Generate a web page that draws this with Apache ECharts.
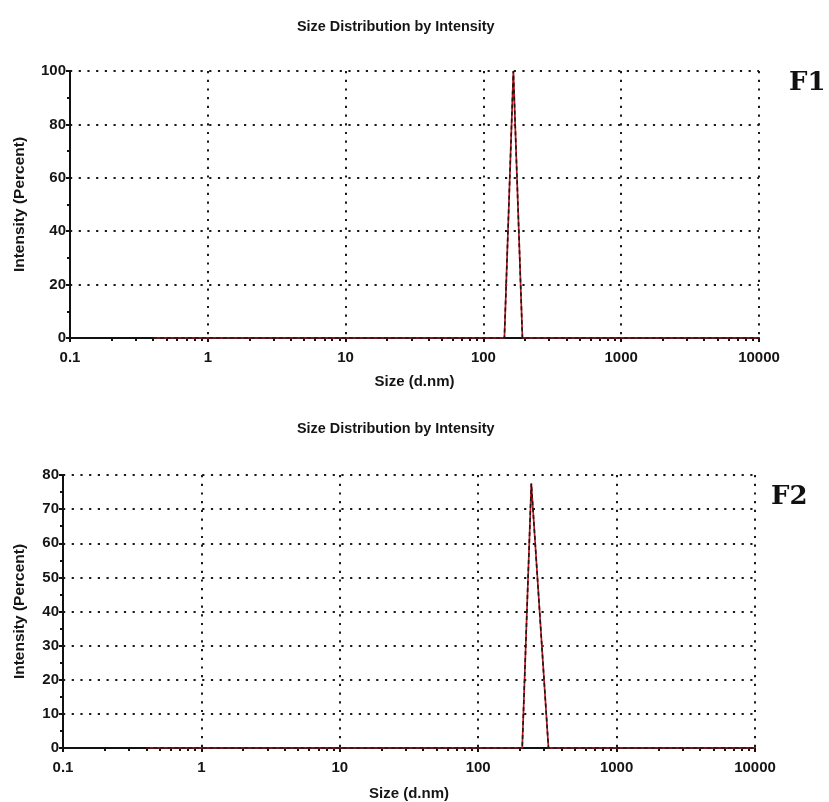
<!DOCTYPE html>
<html>
<head>
<meta charset="utf-8">
<script src="https://cdn.jsdelivr.net/npm/echarts@6/dist/echarts.min.js"></script>
<style>html,body{margin:0;padding:0;background:#fff}#c{width:829px;height:802px}</style>
</head>
<body>
<div id="c"></div>
<script>
// ---- data ----
const chartTitle = 'Size Distribution by Intensity';
const xName = 'Size (d.nm)';
const yName = 'Intensity (Percent)';
const panelLabels = ['F1', 'F2'];
const xTickLabels = [0.1, 1, 10, 100, 1000, 10000];
const xMinorTicks = [0.2,0.3,0.4,0.5,0.6,0.7,0.8,0.9, 2,3,4,5,6,7,8,9, 20,30,40,50,60,70,80,90,
  200,300,400,500,600,700,800,900, 2000,3000,4000,5000,6000,7000,8000,9000];
// F1
const f1Size = [0.4, 142, 165, 192, 10000];
const f1Red = [0, 0, 100, 0, 0];
const f1Black = [0, 0, 100, 0, 0];
// F2
const f2Size = [0.4, 208, 242, 322, 10000];
const f2Red = [0, 0, 77.5, 0, 0];
const f2Black = [0, 0, 77.5, 0, 0];

const FONT = 'Liberation Sans, Arial, sans-serif';
const pair = (xs, ys) => xs.map((x, i) => [x, ys[i]]);
const fmt = v => String(+(+v).toPrecision(6));

const grids = [
  {left: 70, top: 71, width: 689, height: 267},
  {left: 63, top: 475, width: 692, height: 273}
];
const yMax = [100, 80], yInt = [20, 10];
const xNameGap = [36, 38], yNameGap = [42, 35];
const txt = {fontFamily: FONT, fontSize: 15, fontWeight: 'bold', color: '#151515'};
const dotted = {color: '#1a1a1a', type: [2.2, 6.5], width: 2};

const xAxes = [], yAxes = [];
grids.forEach((g, i) => {
  xAxes.push({
    type: 'log', logBase: 10, min: 0.1, max: 10000, gridIndex: i,
    name: xName, nameLocation: 'middle', nameGap: xNameGap[i],
    nameTextStyle: Object.assign({}, txt),
    axisLine: {lineStyle: {color: '#111', width: 2}},
    axisTick: {show: true, length: 4, inside: false, lineStyle: {color: '#111', width: 2}},
    axisLabel: Object.assign({margin: 12, formatter: fmt}, txt),
    splitLine: {show: true, lineStyle: dotted},
    minorTick: {show: false}
  });
  xAxes.push({
    type: 'log', logBase: 10, min: 0.1, max: 10000, gridIndex: i, position: 'bottom',
    axisLine: {show: false},
    axisTick: {show: true, length: 3, inside: false, customValues: xMinorTicks, lineStyle: {color: '#111', width: 2}},
    axisLabel: {show: false},
    splitLine: {show: false}
  });
  yAxes.push({
    type: 'value', min: 0, max: yMax[i], interval: yInt[i], gridIndex: i,
    name: yName, nameLocation: 'middle', nameGap: yNameGap[i], nameRotate: 90,
    nameTextStyle: Object.assign({}, txt, {fontSize: 15.5}),
    axisLine: {show: true, lineStyle: {color: '#111', width: 2}},
    axisTick: {show: true, length: 4, lineStyle: {color: '#111', width: 2}},
    minorTick: {show: true, splitNumber: 2, length: 3, lineStyle: {color: '#111', width: 2}},
    axisLabel: Object.assign({margin: 4}, txt),
    splitLine: {show: true, lineStyle: dotted}
  });
});

const mkRed = (d, i) => ({type: 'line', xAxisIndex: i * 2, yAxisIndex: i, data: d, symbol: 'none',
  lineStyle: {color: '#c0141c', width: 1.7}, z: 3, animation: false});
const mkBlack = (d, i) => ({type: 'line', xAxisIndex: i * 2, yAxisIndex: i, data: d, symbol: 'none',
  lineStyle: {color: '#1a1a1a', width: 1.6, type: [4, 3]}, z: 4, animation: false});

const chart = echarts.init(document.getElementById('c'), null, {renderer: 'canvas'});
chart.setOption({
  animation: false,
  backgroundColor: '#fff',
  title: [
    {text: chartTitle, left: 292, top: 15, textStyle: Object.assign({}, txt, {fontSize: 14.4})},
    {text: chartTitle, left: 292, top: 417, textStyle: Object.assign({}, txt, {fontSize: 14.4})}
  ],
  grid: grids,
  xAxis: xAxes,
  yAxis: yAxes,
  series: [
    mkRed(pair(f1Size, f1Red), 0), mkBlack(pair(f1Size, f1Black), 0),
    mkRed(pair(f2Size, f2Red), 1), mkBlack(pair(f2Size, f2Black), 1)
  ],
  graphic: [
    {type: 'text', left: 789, top: 70, style: {text: panelLabels[0], font: 'bold 26px "DejaVu Serif", serif', fill: '#111'}},
    {type: 'text', left: 771, top: 484, style: {text: panelLabels[1], font: 'bold 26px "DejaVu Serif", serif', fill: '#111'}}
  ]
});
</script>
</body>
</html>
